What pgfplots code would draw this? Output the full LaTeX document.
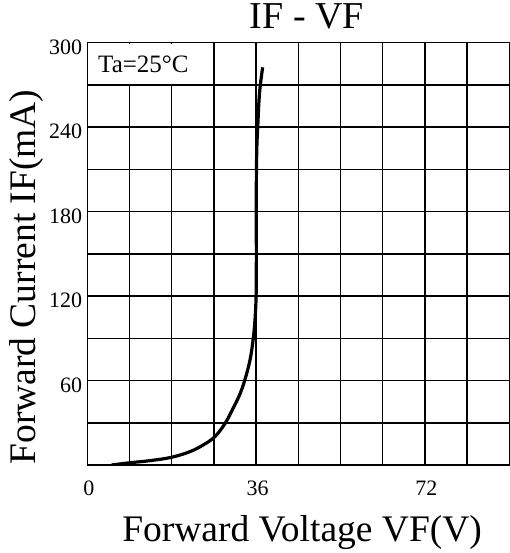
\documentclass[border=0pt]{standalone}
\usepackage{fontspec}
\setmainfont{Liberation Serif}
\usepackage{pgfplots}
\pgfplotsset{compat=1.18}

\begin{document}
\begin{tikzpicture}
    \path[use as bounding box] (0pt,0pt) rectangle (510pt,553pt);

    \begin{axis}[
        at={(87.3pt,88pt)}, anchor=south west,
        scale only axis,
        width=422pt, height=422.3pt,
        xmin=0, xmax=90, ymin=0, ymax=300,
        xtick={0,9,...,90},
        xticklabels={0,,,,36,,,,72,,},
        ytick={0,30,...,300},
        yticklabels={,,60,,120,,180,,240,,300},
        major tick length=0pt,
        grid=major,
        grid style={black, line width=1.5pt},
        axis line style={black, line width=1.5pt},
        /pgf/number format/assume math mode=true,
        ticklabel style={font=\fontsize{22}{24}\selectfont},
        xticklabel style={anchor=center, inner sep=0pt, yshift=-23pt, xshift=1.5pt},
        yticklabel style={anchor=east, inner sep=0pt, xshift=-5pt, yshift=-4.5pt},
        title={IF - VF},
        title style={at={(0.52,1)}, anchor=base, yshift=7.7pt,
            font=\fontsize{38}{40}\selectfont},
        xlabel={Forward Voltage VF(V)},
        xlabel style={at={(0.509,0)}, anchor=base, yshift=-76pt,
            font=\fontsize{37.5}{40}\selectfont},
        ylabel={Forward Current IF(mA)},
        ylabel style={at={(-0.145,0.445)}, anchor=center,
            font=\fontsize{37.5}{40}\selectfont},
    ]

    % boxed note in the top-left cells
    \fill[white] ([xshift=0.9pt,yshift=0.9pt]axis cs:0,270)
        rectangle ([xshift=-0.9pt,yshift=-0.9pt]axis cs:27,300);
    \node[anchor=west, inner sep=0pt, font=\fontsize{25}{28}\selectfont]
        at ([xshift=10.7pt]axis cs:0,285) {Ta=25°C};

    \addplot[black, line width=3.2pt, smooth, tension=0.6] coordinates {
        (5.2,0) (9.1,1.6) (13.4,3.1) (18,5.5) (21.9,9.5) (24.7,14.2)
        (27.2,20.1) (29.4,29.6) (31.1,40.3) (32.5,50) (33.6,60.4)
        (34.7,74.6) (35.4,90) (35.8,105) (36.0,120) (36.05,140)
        (36.05,170) (36.05,200) (36.15,225) (36.35,240) (36.6,258)
        (36.9,270) (37.4,282.5)
    };

    \end{axis}
\end{tikzpicture}
\end{document}
